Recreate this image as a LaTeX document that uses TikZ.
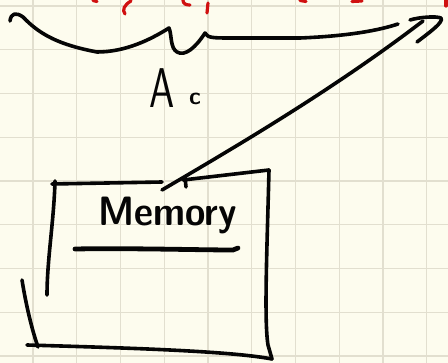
\documentclass[tikz,border=0pt]{standalone}
\usepackage{fontspec}
\definecolor{paper}{HTML}{FDFCEE}
\definecolor{gridc}{HTML}{E2DFCF}
\definecolor{ink}{HTML}{050505}
\definecolor{redink}{HTML}{D01010}
\tikzset{
  pen/.style={draw=ink, line width=3.6pt, line cap=round, line join=round},
  thickpen/.style={draw=ink, line width=4.8pt, line cap=round, line join=round},
  redpen/.style={draw=redink, line width=3.2pt, line cap=round},
  hand/.style={text=ink, inner sep=0pt}
}
\begin{document}
\begin{tikzpicture}[x=1pt,y=-1pt]
\useasboundingbox (0,0) rectangle (448,363);
\fill[paper] (0,0) rectangle (448,363);
% grid
\foreach \i in {0,...,9} {
  \draw[gridc, line width=1.4pt] ({33+43.75*\i},0) -- ({33+43.75*\i},363);
}
\foreach \j in {0,...,8} {
  \draw[gridc, line width=1.4pt] (0,{6+43.75*\j}) -- (448,{6+43.75*\j});
}
% red marks cut at top
\draw[redpen] (93,0.5) -- (97,1.5);
\draw[redpen] (131,1) .. controls (124,5) and (122,10) .. (125,14);
\draw[redpen] (183,0) .. controls (183,4) and (186,5) .. (190,5);
\draw[redpen] (208,3) -- (207,13);
\draw[redpen] (300,0.5) -- (306,1.5);
\draw[redpen] (352,1.5) -- (362,1);
\draw[redpen] (446,0) -- (446,6);
% top wavy brace line
\coordinate (wstart) at (10,21);
\coordinate (wend) at (398,24);
\draw[pen] (wstart) .. controls (11,13) and (16,12) .. (23,17)
  .. controls (40,35) and (60,45) .. (97,52)
  .. controls (125,52) and (150,40) .. (169,28)
  .. controls (172,35) and (170,48) .. (177,52)
  .. controls (185,57) and (196,47) .. (205,33)
  .. controls (208,38) and (212,38) .. (233,38)
  -- (300,38)
  .. controls (350,36) and (380,30) .. (wend);
% label A_c
\node[hand, font=\sffamily\fontsize{56}{56}\selectfont, xscale=0.72] (alab) at (162,88) {A};
\node[hand, font=\sffamily\bfseries\fontsize{24}{24}\selectfont] (clab) at (195,99) {c};
% box (memory)
\coordinate (t1a) at (52,184);
\coordinate (t1b) at (162,182);
\coordinate (t2a) at (183,180);
\coordinate (tr) at (269,170);
\coordinate (br) at (272,359);
\coordinate (bl) at (27,345);
\coordinate (il1) at (55,181);
\coordinate (il2) at (47,295);
\coordinate (ol1) at (22,280);
\coordinate (ol2) at (38,347);
\draw[pen] (t1a) -- (t1b);
\draw[pen] (t2a) -- (tr);
\draw[pen] (185,177) -- (186,187);
\draw[pen] (tr) .. controls (267,250) and (264,320) .. (268,345) -- (br);
\draw[pen] (bl) .. controls (130,348) and (230,351) .. (br);
\draw[pen] (il1) .. controls (54,220) and (47,260) .. (il2);
\draw[pen] (ol1) .. controls (26,305) and (32,330) .. (ol2);
% memory text
\node[hand, font=\sffamily\bfseries\fontsize{41}{41}\selectfont, xscale=0.9] (mem) at (168,215) {Memory};
\coordinate (ul1) at (75,249);
\coordinate (ul2) at (238,248);
\draw[thickpen] (ul1) .. controls (130,248) and (200,250) .. (233,250) -- (ul2);
% arrow from box to right end
\coordinate (astart) at (162,190);
\coordinate (atip) at (441,18);
\draw[pen] (astart) .. controls (230,150) and (330,92) .. (423,21);
\draw[pen] (410,20) .. controls (420,17) and (436,16) .. (atip) .. controls (444,22) and (430,32) .. (417,42);
\end{tikzpicture}
\end{document}
